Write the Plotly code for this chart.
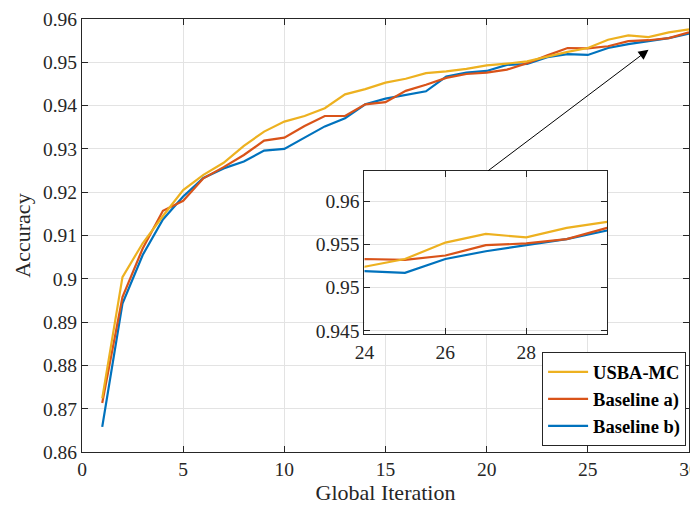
import plotly.graph_objects as go

iterations = list(range(1, 31))
usba_mc = [0.8724, 0.9004, 0.9082, 0.9145, 0.9205, 0.9240, 0.9268, 0.9307, 0.9340, 0.9363,
           0.9376, 0.9394, 0.9426, 0.9438, 0.9453, 0.9462, 0.9475, 0.9479, 0.9485, 0.9493,
           0.9497, 0.9502, 0.9513, 0.9524, 0.9533, 0.9552, 0.9562, 0.9558, 0.9569, 0.9576]
baseline_a = [0.8713, 0.8958, 0.9070, 0.9157, 0.9180, 0.9232, 0.9258, 0.9286, 0.9319, 0.9326,
              0.9353, 0.9376, 0.9376, 0.9403, 0.9408, 0.9434, 0.9448, 0.9464, 0.9473, 0.9476,
              0.9483, 0.9498, 0.9516, 0.9533, 0.9532, 0.9537, 0.9549, 0.9551, 0.9556, 0.9569]
baseline_b = [0.8658, 0.8943, 0.9055, 0.9137, 0.9190, 0.9233, 0.9255, 0.9271, 0.9296, 0.9300,
              0.9326, 0.9352, 0.9371, 0.9403, 0.9416, 0.9425, 0.9433, 0.9467, 0.9476, 0.9480,
              0.9494, 0.9496, 0.9512, 0.9519, 0.9517, 0.9533, 0.9542, 0.9549, 0.9556, 0.9566]

x_ticks = [0, 5, 10, 15, 20, 25, 30]
y_ticks = [0.86, 0.87, 0.88, 0.89, 0.90, 0.91, 0.92, 0.93, 0.94, 0.95, 0.96]
y_tick_text = ["0.86", "0.87", "0.88", "0.89", "0.9", "0.91", "0.92", "0.93", "0.94", "0.95", "0.96"]
inset_x_ticks = [24, 26, 28]
inset_y_ticks = [0.945, 0.95, 0.955, 0.96]
inset_y_text = ["0.945", "0.95", "0.955", "0.96"]

names = ["USBA-MC", "Baseline a)", "Baseline b)"]
colors = ["#EDB120", "#D95319", "#0072BD"]
series = [usba_mc, baseline_a, baseline_b]

FONT = "Liberation Serif"
AX = "#262626"
GRID = "#e3e3e3"

fig = go.Figure()
for idx in [2, 1, 0]:
    fig.add_trace(go.Scatter(x=iterations, y=series[idx], mode="lines", name=names[idx],
                             line=dict(color=colors[idx], width=2.2), xaxis="x", yaxis="y",
                             legendrank=idx + 1))
for idx in [2, 1, 0]:
    fig.add_trace(go.Scatter(x=iterations, y=series[idx], mode="lines", name=names[idx],
                             line=dict(color=colors[idx], width=2.2), xaxis="x2", yaxis="y2",
                             showlegend=False))

common = dict(showline=True, linecolor=AX, linewidth=1, mirror="ticks", ticks="inside",
              tickcolor=AX, ticklen=6, showgrid=True, gridcolor=GRID, gridwidth=1,
              zeroline=False, automargin=False, ticklabeloverflow="allow",
              tickfont=dict(family=FONT, size=19.5, color=AX))

ins_x0, ins_x1 = 0.4654, 0.8651
ins_y0, ins_y1 = 0.2722, 0.6492

fig.update_layout(
    width=698, height=499,
    margin=dict(l=74, r=17, t=11, b=55),
    paper_bgcolor="white", plot_bgcolor="white",
    font=dict(family=FONT, color=AX),
    xaxis=dict(range=[0, 30], tickvals=x_ticks, domain=[0, 1],
               title=dict(text="Global Iteration", font=dict(family=FONT, size=22, color=AX), standoff=3),
               **common),
    yaxis=dict(range=[0.86, 0.96], tickvals=y_ticks, ticktext=y_tick_text, domain=[0, 1],
               title=dict(text="Accuracy", font=dict(family=FONT, size=22, color=AX), standoff=6),
               **common),
    xaxis2=dict(range=[24, 30], tickvals=inset_x_ticks, domain=[ins_x0, ins_x1], anchor="y2",
                **common),
    yaxis2=dict(range=[0.9446, 0.9635], tickvals=inset_y_ticks, ticktext=inset_y_text,
                domain=[ins_y0, ins_y1], anchor="x2", **common),
    legend=dict(x=0.9952, y=0.0132, xanchor="right", yanchor="bottom",
                bgcolor="white", bordercolor=AX, borderwidth=1,
                font=dict(family=FONT, size=18.5, color="black", weight="bold"),
                traceorder="normal", tracegroupgap=0, itemwidth=40),
    showlegend=True,
)

fig.add_shape(type="rect", xref="x2 domain", yref="y2 domain", x0=0, x1=1, y0=0, y1=1,
              fillcolor="white", line=dict(width=0), layer="below")

fig.add_annotation(x=28, y=0.9529, ax=20, ay=0.9247, xref="x", yref="y", axref="x", ayref="y",
                   showarrow=True, arrowhead=2, arrowsize=2, arrowwidth=1, arrowcolor="black", text="")

fig.write_html("out.html")
